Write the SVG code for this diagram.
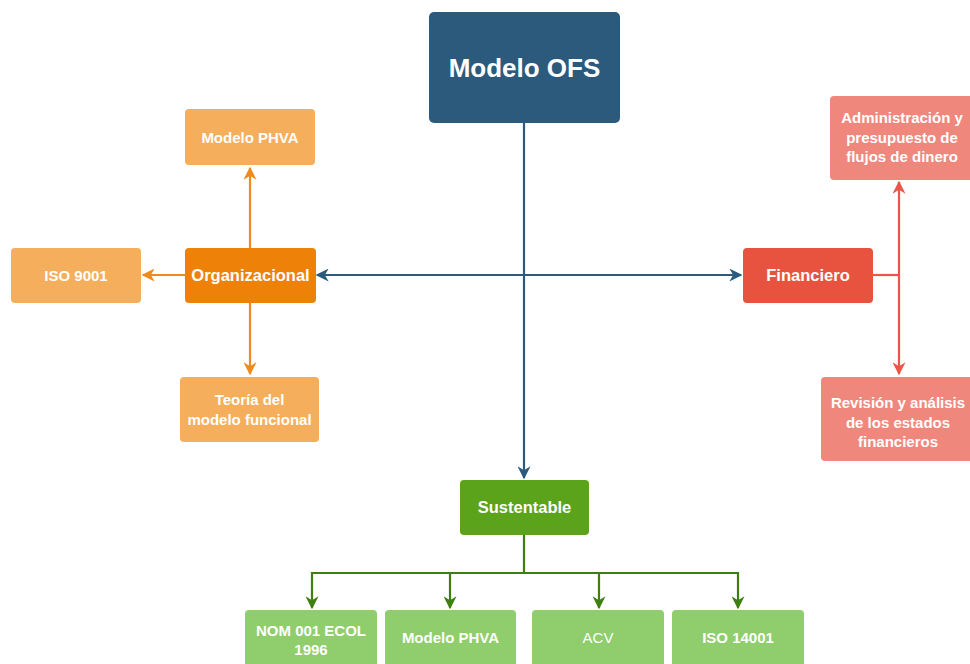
<svg xmlns="http://www.w3.org/2000/svg" width="970" height="664" viewBox="0 0 970 664">
<defs>
<style>
text{font-family:"Liberation Sans",Arial,sans-serif;font-weight:bold;fill:#fff;text-anchor:middle}
.s{font-size:15px}
.m{font-size:16.5px}
.c{fill:none;stroke-width:2.2}
.blue{stroke:#2c5a7c}
.org{stroke:#ef8a1e}
.red{stroke:#e8574a}
.grn{stroke:#3f7f12}
</style>
<marker id="ab" viewBox="0 0 10 10" refX="9" refY="5" markerWidth="13" markerHeight="13" markerUnits="userSpaceOnUse" orient="auto-start-reverse"><path d="M0,0 L10,5 L0,10 L3,5 z" fill="#2c5a7c"/></marker>
<marker id="ao" viewBox="0 0 10 10" refX="9" refY="5" markerWidth="13" markerHeight="13" markerUnits="userSpaceOnUse" orient="auto-start-reverse"><path d="M0,0 L10,5 L0,10 L3,5 z" fill="#ef8a1e"/></marker>
<marker id="ar" viewBox="0 0 10 10" refX="9" refY="5" markerWidth="13" markerHeight="13" markerUnits="userSpaceOnUse" orient="auto-start-reverse"><path d="M0,0 L10,5 L0,10 L3,5 z" fill="#e8574a"/></marker>
<marker id="ag" viewBox="0 0 10 10" refX="9" refY="5" markerWidth="13" markerHeight="13" markerUnits="userSpaceOnUse" orient="auto-start-reverse"><path d="M0,0 L10,5 L0,10 L3,5 z" fill="#3f7f12"/></marker>
</defs>
<rect width="970" height="664" fill="#fff"/>
<g id="connectors">
<path class="c blue" d="M524,123 V478" marker-end="url(#ab)"/>
<path class="c blue" d="M317,275 H741" marker-start="url(#ab)" marker-end="url(#ab)"/>
<path class="c org" d="M250,248 V168" marker-end="url(#ao)"/>
<path class="c org" d="M185,275 H143" marker-end="url(#ao)"/>
<path class="c org" d="M250,303 V374" marker-end="url(#ao)"/>
<path class="c red" d="M873,275 H899"/>
<path class="c red" d="M899,182 V374" marker-start="url(#ar)" marker-end="url(#ar)"/>
<path class="c grn" d="M524,535 V573 M312,573 H738"/>
<path class="c grn" d="M312,572 V608" marker-end="url(#ag)"/>
<path class="c grn" d="M450,572 V608" marker-end="url(#ag)"/>
<path class="c grn" d="M599,572 V608" marker-end="url(#ag)"/>
<path class="c grn" d="M738,572 V608" marker-end="url(#ag)"/>
</g>
<g id="modelo-ofs"><rect x="429" y="12" width="191" height="111" rx="5" fill="#2c5a7c"/><text x="524.5" y="77" style="font-size:26px">Modelo OFS</text></g>
<g id="organizacional"><rect x="185" y="248" width="131" height="55" rx="4" fill="#ee8208"/><text class="m" x="250.5" y="281">Organizacional</text></g>
<g id="phva-org"><rect x="185" y="109" width="130" height="56" rx="4" fill="#f5ae5c"/><text class="s" x="250" y="143">Modelo PHVA</text></g>
<g id="iso9001"><rect x="11" y="248" width="130" height="55" rx="4" fill="#f5ae5c"/><text class="s" x="76" y="281">ISO 9001</text></g>
<g id="teoria"><rect x="180" y="377" width="139" height="65" rx="4" fill="#f5ae5c"/><text class="s" x="249.5" y="405">Teoría del</text><text class="s" x="249.5" y="425">modelo funcional</text></g>
<g id="financiero"><rect x="743" y="248" width="130" height="55" rx="4" fill="#e8533f"/><text class="m" x="808" y="281">Financiero</text></g>
<g id="administracion"><rect x="830" y="96" width="146" height="84" rx="4" fill="#f0877d"/><text class="s" x="902" y="123">Administración y</text><text class="s" x="902" y="142.5">presupuesto de</text><text class="s" x="902" y="162">flujos de dinero</text></g>
<g id="revision"><rect x="821" y="377" width="155" height="84" rx="4" fill="#f0877d"/><text class="s" x="898" y="408">Revisión y análisis</text><text class="s" x="898" y="427.5">de los estados</text><text class="s" x="898" y="447">financieros</text></g>
<g id="sustentable"><rect x="460" y="480" width="129" height="55" rx="4" fill="#5aa31a"/><text class="m" x="524.5" y="513">Sustentable</text></g>
<g id="nom"><rect x="245" y="610" width="132" height="62" rx="4" fill="#8fcd6d"/><text class="s" x="311" y="636">NOM 001 ECOL</text><text class="s" x="311" y="655">1996</text></g>
<g id="phva-sus"><rect x="385" y="610" width="131" height="62" rx="4" fill="#8fcd6d"/><text class="s" x="450.5" y="643">Modelo PHVA</text></g>
<g id="acv"><rect x="532" y="610" width="132" height="62" rx="4" fill="#8fcd6d"/><text class="s" x="598" y="643" style="font-weight:normal">ACV</text></g>
<g id="iso14001"><rect x="672" y="610" width="132" height="62" rx="4" fill="#8fcd6d"/><text class="s" x="738" y="643">ISO 14001</text></g>
</svg>
